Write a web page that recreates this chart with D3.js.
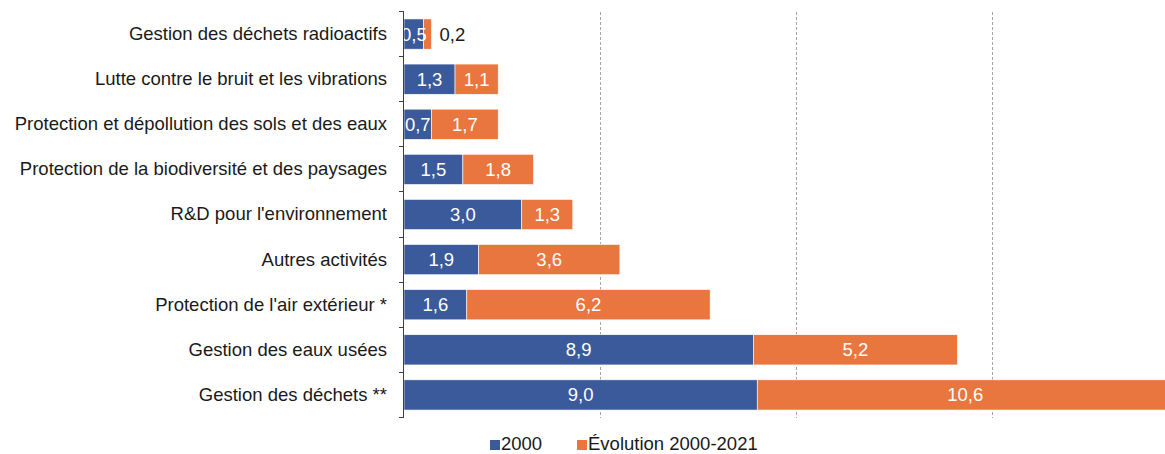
<!DOCTYPE html>
<html><head><meta charset="utf-8">
<script src="https://cdn.jsdelivr.net/npm/d3@7"></script>
<style>body{margin:0;background:#fff}svg{display:block;font-family:"Liberation Sans",Arial,sans-serif}</style>
</head><body><svg id="c" width="1165" height="454"></svg>
<script>
const categories = ["Gestion des déchets radioactifs","Lutte contre le bruit et les vibrations","Protection et dépollution des sols et des eaux","Protection de la biodiversité et des paysages","R&D pour l'environnement","Autres activités","Protection de l'air extérieur *","Gestion des eaux usées","Gestion des déchets **"];
const values2000 = [0.5,1.3,0.7,1.5,3.0,1.9,1.6,8.9,9.0];
const valuesEvol = [0.2,1.1,1.7,1.8,1.3,3.6,6.2,5.2,10.6];
const seriesNames = ["2000","Évolution 2000-2021"];
const gridTicks = [5,10,15,20];
const colors = ["#3B5A9B","#E8763E"];

const FS = 18.5;
const svg = d3.select("#c");
const fmt = d3.formatLocale({decimal:",",thousands:" ",grouping:[3],currency:["","€"]}).format(".1f");
const x = d3.scaleLinear().domain([0,20]).range([404,1189]);
const y = d3.scaleBand().domain(categories).range([11.5,417.5]).paddingInner(0.33).paddingOuter(0.165);

// grid
svg.append("g").selectAll("line").data(gridTicks).join("line")
  .attr("x1",d=>x(d)).attr("x2",d=>x(d)).attr("y1",11.5).attr("y2",417.5)
  .attr("stroke","#a6a6a6").attr("stroke-width",1).attr("stroke-dasharray","3,2").attr("shape-rendering","crispEdges");

const data = categories.map((c,i)=>({cat:c,a:values2000[i],b:valuesEvol[i]}));
const g = svg.append("g");
data.forEach(d=>{
  g.append("rect").attr("x",x(0)).attr("y",y(d.cat)).attr("width",x(d.a)-x(0)).attr("height",y.bandwidth())
    .attr("fill",colors[0]).attr("stroke","#fff").attr("stroke-width",0.6);
  g.append("rect").attr("x",x(d.a)).attr("y",y(d.cat)).attr("width",x(d.a+d.b)-x(d.a)).attr("height",y.bandwidth())
    .attr("fill",colors[1]).attr("stroke","#fff").attr("stroke-width",0.6);
});

// axis
const step = y.step();
const bounds = categories.map(c=>y(c)-step*0.165).concat([417.5]);
const ax = svg.append("g");
ax.append("line").attr("x1",x(0)-0.5).attr("x2",x(0)-0.5).attr("y1",11.5).attr("y2",417.5).attr("stroke","#404040").attr("stroke-width",1).attr("shape-rendering","crispEdges");
ax.selectAll(".t").data(bounds).join("line").attr("x1",x(0)-5).attr("x2",x(0)).attr("y1",d=>d).attr("y2",d=>d)
  .attr("stroke","#404040").attr("shape-rendering","crispEdges");
const axisG = svg.append("g").attr("transform",`translate(${x(0)},0)`).call(d3.axisLeft(y).tickSize(0).tickPadding(17));
axisG.select(".domain").remove();
axisG.selectAll("text").attr("font-size",FS).attr("fill","#1a1a1a").attr("font-family","Liberation Sans, Arial, sans-serif");

// labels
data.forEach(d=>{
  const cy = y(d.cat)+y.bandwidth()/2;
  g.append("text").attr("x",(x(0)+x(d.a))/2).attr("y",cy).attr("dy","0.35em").attr("text-anchor","middle")
    .attr("font-size",FS).attr("fill","#fff").text(fmt(d.a));
  const w = x(d.a+d.b)-x(d.a);
  if (w > 25) {
    g.append("text").attr("x",(x(d.a)+x(d.a+d.b))/2).attr("y",cy).attr("dy","0.35em").attr("text-anchor","middle")
      .attr("font-size",FS).attr("fill","#fff").text(fmt(d.b));
  } else {
    g.append("text").attr("x",x(d.a+d.b)+8).attr("y",cy).attr("dy","0.35em").attr("text-anchor","start")
      .attr("font-size",FS).attr("fill","#1a1a1a").text(fmt(d.b));
  }
});

// legend
const leg = svg.append("g").attr("font-size",FS).attr("fill","#1a1a1a");
const lx = [490,577];
seriesNames.forEach((s,i)=>{
  leg.append("rect").attr("x",lx[i]).attr("y",440).attr("width",10).attr("height",10).attr("fill",colors[i]);
  leg.append("text").attr("x",lx[i]+11).attr("y",450).attr("fill","#1a1a1a").text(s);
});
</script></body></html>
